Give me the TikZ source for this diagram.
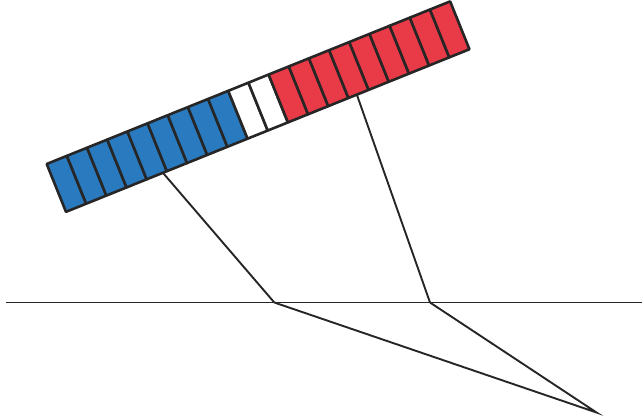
\documentclass[tikz,border=0pt]{standalone}
\usepackage{tikz}
\usetikzlibrary{positioning, calc}

\definecolor{cellblue}{HTML}{2A7ABF}
\definecolor{cellred}{HTML}{E83A47}

\begin{document}
\begin{tikzpicture}[
    x=1pt, y=1pt,
    line join=round,
    % Styles
    cell/.style={
        draw=black!85,
        line width=2.6pt
    },
    ray/.style={
        draw=black!85,
        line width=1.9pt
    }
]
    \useasboundingbox (0,0) rectangle (642,417);

    % Bar of cells
    \begin{scope}[shift={(46.7,253)}, rotate=21.95]
        \foreach \i in {0,...,19}{
            \ifnum\i<9
                \def\cellcol{cellblue}
            \else\ifnum\i<11
                \def\cellcol{white}
            \else
                \def\cellcol{cellred}
            \fi\fi
            \path[cell, fill=\cellcol] (\i*21.75,0) rectangle ++(21.75,-51.6);
        }
        \coordinate (left) at (104.5,-51.6);
        \coordinate (right) at (313.6,-51.6);
    \end{scope}

    % Ground line
    \coordinate (west) at (6,114.5);
    \coordinate (east) at (642,114.5);
    \coordinate (A) at (274.3,114.5);
    \coordinate (B) at (430,114.5);
    \coordinate (apex) at (596.5,4.5);

    % Paths
    \draw[ray] (west) -- (east);
    \draw[ray] (left) -- (A);
    \draw[ray] (right) -- (B);
    \draw[ray, line join=miter] (A) -- (apex) -- (B);
\end{tikzpicture}
\end{document}
